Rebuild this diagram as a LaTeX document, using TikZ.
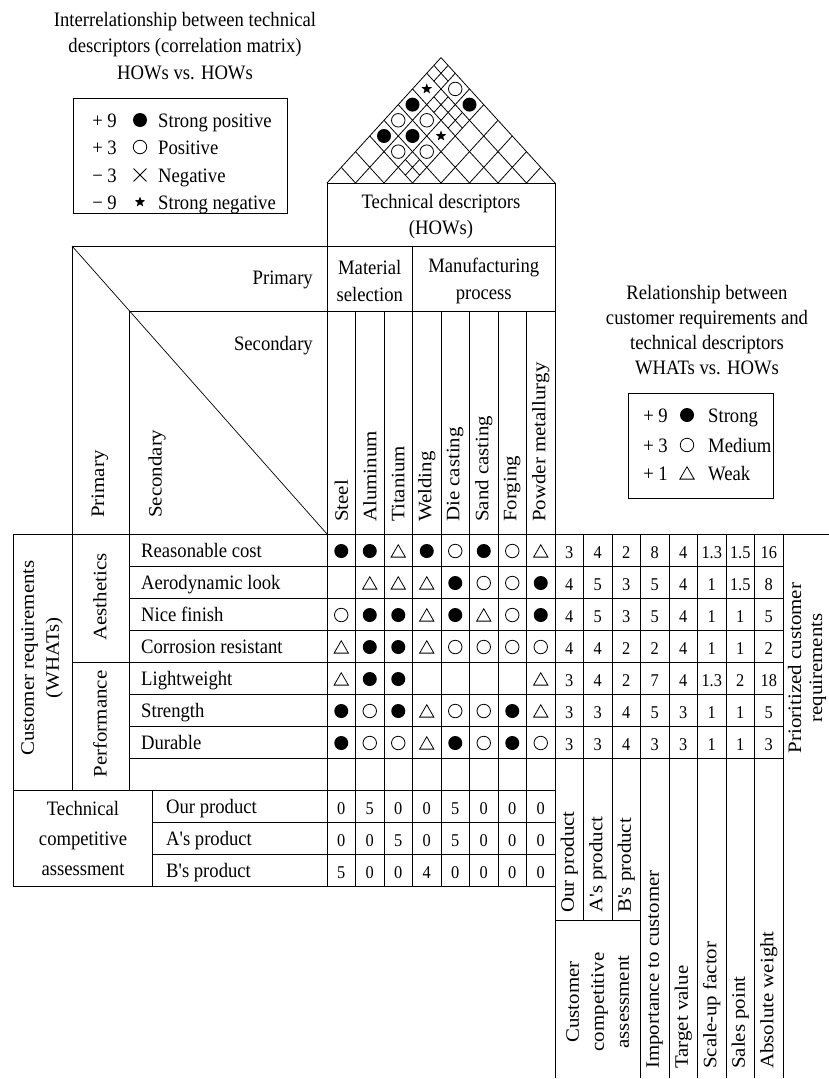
\documentclass[tikz,border=0pt]{standalone}
\usepackage{fontspec}
\setmainfont{Liberation Serif}
% horizontal lettering is slightly narrow, rotated lettering slightly long
\newfontfamily\hfont[FakeStretch=0.91]{Liberation Serif}
\newfontfamily\vfont[FakeStretch=1.1]{Liberation Serif}
\usetikzlibrary{shapes.geometric,shapes.misc}

\def\colw{28.5}  % width of one column of the house
\def\rowh{32}    % height of one row of the house

\begin{document}
\begin{tikzpicture}[x=1pt,y=-1pt,
  rule/.style={line width=1pt,line cap=rect},
  roofrule/.style={line width=0.8pt},
  hlabel/.style={font=\hfont\fontsize{20.5}{26.5}\selectfont,inner sep=0pt},
  hblock/.style={hlabel,align=center},
  vlabel/.style={font=\vfont\fontsize{19}{25}\selectfont,inner sep=0pt,rotate=90},
  vblock/.style={vlabel,align=center},
  num/.style={font=\hfont\fontsize{18}{20}\selectfont,inner sep=0pt,anchor=base},
  sF/.style={circle,fill,inner sep=0pt,minimum size=14pt},
  sO/.style={circle,draw,line width=0.8pt,inner sep=0pt,minimum size=13.5pt},
  sT/.style={regular polygon,regular polygon sides=3,draw,line width=0.8pt,inner sep=0pt,minimum size=16.5pt,yshift=-2pt},
  sS/.style={star,star points=5,star point ratio=2.4,fill,inner sep=0pt,minimum size=11pt},
  sX/.style={cross out,draw,line width=0.9pt,inner sep=0pt,minimum size=12pt},
  sN/.style={inner sep=0pt,minimum size=0pt},
]
\fill[white] (0,0) rectangle (828,1079);
\useasboundingbox (0,0) rectangle (828,1079);

% ---------- roof: correlation matrix ----------
\foreach \i in {0,...,7}
  \draw[roofrule] ({327+\colw*\i},183) -- ({327+\colw*(8+\i)/2},{183-1.1*\colw*(8-\i)/2});
\foreach \j in {1,...,8}
  \draw[roofrule] ({327+\colw*\j},183) -- ({327+\colw*\j/2},{183-1.1*\colw*\j/2});
% cells split into four smaller diamonds
\foreach \p/\q in {1/8,2/7,3/7,3/4} {
  \pgfmathsetmacro\cx{327+\colw*(\p+\q-1)/2}
  \pgfmathsetmacro\cy{183-1.1*\colw*(\q-\p)/2}
  \draw[roofrule] ({\cx-\colw/4},{\cy+1.1*\colw/4}) -- ({\cx+\colw/4},{\cy-1.1*\colw/4})
                  ({\cx+\colw/4},{\cy+1.1*\colw/4}) -- ({\cx-\colw/4},{\cy-1.1*\colw/4});
}
\foreach \p/\q/\s in {1/7/sS,2/8/sO,1/6/sF,3/8/sF,1/5/sO,2/6/sO,1/4/sF,2/5/sF,3/6/sS,2/4/sO,3/5/sO}
  \expandafter\node\expandafter[\s] (r-\p-\q) at ({327+\colw*(\p+\q-1)/2},{183-1.1*\colw*(\q-\p)/2}) {};

% ---------- grid rules ----------
\draw[rule] (327,183) rectangle (555,246);
\draw[rule] (72,246) -- (555,246);
\draw[rule] (129,311) -- (555,311);
\draw[rule] (327,183) -- (327,886);
\draw[rule] (555,183) -- (555,1077);
\draw[rule] ({327+3*\colw},246) -- ({327+3*\colw},886);
\foreach \k in {1,2,4,5,6,7}
  \draw[rule] ({327+\k*\colw},311) -- ({327+\k*\colw},886);
\foreach \k in {9,10}
  \draw[rule] ({327+\k*\colw},534) -- ({327+\k*\colw},920);
\foreach \k in {11,...,16}
  \draw[rule] ({327+\k*\colw},534) -- ({327+\k*\colw},1077);
\draw[rule] (555,920) -- ({327+11*\colw},920);
\draw[rule] (13,534) -- (828,534);
\foreach \i in {1,...,7}
  \draw[rule] (129,{534+\i*\rowh}) -- ({327+16*\colw},{534+\i*\rowh});
\draw[rule] (13,790) -- (555,790);
\draw[rule] (152,822) -- (555,822);
\draw[rule] (152,854) -- (555,854);
\draw[rule] (13,886) -- (555,886);
\draw[rule] (72,246) -- (72,790);
\draw[rule] (129,311) -- (129,790);
\draw[rule] (72,662) -- (129,662);
\draw[rule] (13,534) -- (13,886);
\draw[rule] (152,790) -- (152,886);
\draw[line width=0.7pt] (72,246) -- (327,534);

% ---------- legend of the roof ----------
\node[hblock] (roof-title) at (185,46) {Interrelationship between technical\\descriptors (correlation matrix)\\HOWs vs. HOWs};
\node[draw,line width=1pt,minimum width=214pt,minimum height=115pt,inner sep=0pt] (roof-key) at (180,155.5) {};
\foreach \y/\v/\s/\t [count=\n] in {120/+ 9/sF/Strong positive,147/+ 3/sO/Positive,175/− 3/sX/Negative,202/− 9/sS/Strong negative} {
  \node[hlabel,anchor=base east] (rk-v-\n) at (117,{\y+7}) {\v};
  \expandafter\node\expandafter[\s] (rk-s-\n) at (140,\y) {};
  \node[hlabel,anchor=base west] (rk-t-\n) at (158,{\y+7}) {\t};
}

% ---------- legend of the relationship matrix ----------
\node[hblock,font=\hfont\fontsize{20.5}{25.3}\selectfont] (rel-title) at (707,330) {Relationship between\\customer requirements and\\technical descriptors\\WHATs vs. HOWs};
\node[draw,line width=1pt,minimum width=145pt,minimum height=105pt,inner sep=0pt] (rel-key) at (700.5,445.5) {};
\foreach \y/\v/\s/\t [count=\n] in {415/+ 9/sF/Strong,445/+ 3/sO/Medium,473/+ 1/sT/Weak} {
  \node[hlabel,anchor=base east] (lk-v-\n) at (668,{\y+7}) {\v};
  \expandafter\node\expandafter[\s] (lk-s-\n) at (687,\y) {};
  \node[hlabel,anchor=base west] (lk-t-\n) at (708,{\y+7}) {\t};
}

% ---------- headers ----------
\node[hblock] (hows) at (441,216.5) {Technical descriptors\\(HOWs)};
\node[hblock] (matsel) at ({327+1.5*\colw},281) {Material\\selection};
\node[hblock] (manuf) at ({327+5.5*\colw},281) {Manufacturing\\process};
\foreach \t [count=\c] in {Steel,Aluminum,Titanium,Welding,Die casting,Sand casting,Forging,Powder metallurgy}
  \node[vlabel,anchor=west] (how-\c) at ({327+(\c-0.5)*\colw},522) {\t};

\node[hlabel,anchor=base east] (prim-h) at (313,284) {Primary};
\node[hlabel,anchor=base east] (sec-h) at (313,350) {Secondary};
\node[vlabel,anchor=west] (prim-v) at (100,518) {Primary};
\node[vlabel,anchor=west] (sec-v) at (157,518) {Secondary};

% ---------- customer requirements ----------
\node[vblock] (whats) at (42,658) {Customer requirements\\(WHATs)};
\node[vlabel] (aest) at (100,597) {Aesthetics};
\node[vlabel] (perf) at (100,724) {Performance};
\foreach \t [count=\r] in {Reasonable cost,Aerodynamic look,Nice finish,Corrosion resistant,Lightweight,Strength,Durable}
  \node[hlabel,anchor=base west] (what-\r) at (141,{534+(\r-0.5)*\rowh+7}) {\t};

% ---------- relationship matrix ----------
\foreach \row [count=\r] in {
  {sF,sF,sT,sF,sO,sF,sO,sT},
  {sN,sT,sT,sT,sF,sO,sO,sF},
  {sO,sF,sF,sT,sF,sT,sO,sF},
  {sT,sF,sF,sT,sO,sO,sO,sO},
  {sT,sF,sF,sN,sN,sN,sN,sT},
  {sF,sO,sF,sT,sO,sO,sF,sT},
  {sF,sO,sO,sT,sF,sO,sF,sO}} {
  \foreach \s [count=\c] in \row
    \expandafter\node\expandafter[\s] (m-\r-\c) at ({327+\colw*(\c-0.5)},{534+\rowh*(\r-0.5)+1}) {};
}

% ---------- planning columns ----------
\foreach \row [count=\r] in {
  {3,4,2,8,4,1.3,1.5,16},
  {4,5,3,5,4,1,1.5,8},
  {4,5,3,5,4,1,1,5},
  {4,4,2,2,4,1,1,2},
  {3,4,2,7,4,1.3,2,18},
  {3,3,4,5,3,1,1,5},
  {3,3,4,3,3,1,1,3}} {
  \foreach \v [count=\c] in \row
    \node[num] (w-\r-\c) at ({327+\colw*(\c+7.5)},{534+\rowh*(\r-0.5)+8}) {\v};
}

% ---------- technical competitive assessment ----------
\node[hblock,font=\hfont\fontsize{20.5}{30}\selectfont] (tca) at (83,838) {Technical\\competitive\\assessment};
\foreach \t [count=\r] in {Our product,A's product,B's product}
  \node[hlabel,anchor=base west] (prod-\r) at (166,{790+(\r-0.5)*\rowh+7}) {\t};
\foreach \row [count=\r] in {
  {0,5,0,0,5,0,0,0},
  {0,0,5,0,5,0,0,0},
  {5,0,0,4,0,0,0,0}} {
  \foreach \v [count=\c] in \row
    \node[num] (b-\r-\c) at ({327+\colw*(\c-0.5)},{790+\rowh*(\r-0.5)+8}) {\v};
}

% ---------- customer competitive assessment and planning labels ----------
\foreach \t [count=\c from 9] in {Our product,A's product,B's product}
  \node[vlabel,anchor=west] (cca-\c) at ({327+(\c-0.5)*\colw},913) {\t};
\node[vblock] (cca) at ({327+9.5*\colw},1002) {Customer\\competitive\\assessment};
\foreach \t [count=\c from 12] in {Importance to customer,Target value,Scale-up factor,Sales point,Absolute weight}
  \node[vlabel,anchor=west] (plan-\c) at ({327+(\c-0.5)*\colw},1069) {\t};
\node[vblock,font=\vfont\fontsize{19}{21}\selectfont] (prio) at (807,668) {Prioritized customer\\requirements};
\end{tikzpicture}
\end{document}
